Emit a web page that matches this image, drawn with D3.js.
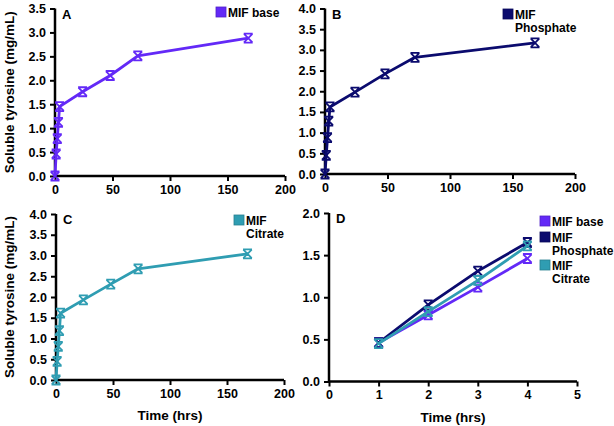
<!DOCTYPE html>
<html><head><meta charset="utf-8">
<script src="https://cdn.jsdelivr.net/npm/d3@7"></script>
<style>body{margin:0;background:#fff}svg{display:block}text{font-family:"Liberation Sans",Arial,sans-serif;font-weight:bold}</style>
</head><body><svg id="c" width="614" height="426"></svg>
<script>
const timesLong = [0, 1, 2, 3, 4, 24, 48, 72, 168];
const baseLong = [0, 0.46, 0.78, 1.12, 1.45, 1.76, 2.1, 2.51, 2.88];
const phosLong = [0, 0.45, 0.88, 1.28, 1.62, 1.98, 2.42, 2.82, 3.17];
const citrLong = [0, 0.45, 0.81, 1.19, 1.61, 1.93, 2.31, 2.68, 3.04];
const timesShort = [1, 2, 3, 4];
const baseShort = [0.46, 0.79, 1.12, 1.46];
const phosShort = [0.46, 0.91, 1.31, 1.65];
const citrShort = [0.45, 0.83, 1.2, 1.61];
const xTicksLong = [0, 50, 100, 150, 200];
const xTicksShort = [0, 1, 2, 3, 4, 5];
const yTicksA = [0, 0.5, 1.0, 1.5, 2.0, 2.5, 3.0, 3.5];
const yTicks4 = [0, 0.5, 1.0, 1.5, 2.0, 2.5, 3.0, 3.5, 4.0];
const yTicksD = [0, 0.5, 1.0, 1.5, 2.0];
const colors = {base: "#6329f7", phos: "#0b0b6e", citr: "#2f9db2"};

const svg = d3.select("#c");

function panel(opt) {
  const g = svg.append("g");
  const x = d3.scaleLinear().domain(opt.xDom).range([opt.x0, opt.x1]);
  const y = d3.scaleLinear().domain(opt.yDom).range([opt.yBot, opt.yTop]);
  const xa = g.append("g").attr("transform", `translate(0,${opt.yBot})`)
    .call(d3.axisBottom(x).tickValues(opt.xTicks).tickFormat(d3.format("d")).tickSize(5).tickPadding(4));
  const ya = g.append("g").attr("transform", `translate(${opt.x0},0)`)
    .call(d3.axisLeft(y).tickValues(opt.yTicks).tickFormat(d3.format(".1f")).tickSize(5).tickPadding(4));
  [xa, ya].forEach(a => {
    a.select(".domain").attr("stroke", "#000").attr("stroke-width", 2.5);
    a.selectAll(".tick line").attr("stroke", "#000").attr("stroke-width", 2);
    a.selectAll(".tick text").attr("font-size", 12.5).attr("fill", "#000")
      .attr("font-family", '"Liberation Sans",Arial,sans-serif').attr("font-weight", "bold");
  });
  ya.select(".domain").attr("d", `M0,${opt.yBot}V${opt.yTop}`);
  xa.select(".domain").attr("d", `M${opt.x0},0H${opt.x1}`);
  opt.series.forEach(s => {
    const pts = s.t.map((t, i) => [x(t), y(s.v[i])]);
    g.append("path").attr("d", d3.line()(pts)).attr("fill", "none")
      .attr("stroke", s.color).attr("stroke-width", 2.8).attr("stroke-linejoin", "round");
    pts.forEach(p => {
      const r = 4.2;
      g.append("path").attr("d", `M${p[0]-r},${p[1]-r}L${p[0]+r},${p[1]+r}M${p[0]-r},${p[1]+r}L${p[0]+r},${p[1]-r}M${p[0]-4.5},${p[1]-4.5}H${p[0]+4.5}M${p[0]-4.5},${p[1]+4.5}H${p[0]+4.5}`)
        .attr("stroke", s.color).attr("stroke-width", 1.8).attr("fill", "none");
    });
  });
  g.append("text").attr("x", opt.x0 + 7).attr("y", opt.yTop + 10).attr("font-size", 13).text(opt.letter);
  opt.legend.forEach(l => {
    g.append("rect").attr("x", l.x).attr("y", l.y).attr("width", 10).attr("height", 10)
      .attr("fill", l.color).attr("stroke", d3.color(l.color).darker(0.6)).attr("stroke-width", 0.8);
    l.lines.forEach((ln, i) => {
      g.append("text").attr("x", l.x + 12).attr("y", l.y + 10 + i * 13).attr("font-size", 12).text(ln);
    });
  });
  if (opt.yTitle) {
    g.append("text").attr("transform", `translate(14,${(opt.yTop + opt.yBot) / 2}) rotate(-90)`)
      .attr("text-anchor", "middle").attr("font-size", 13.5).text("Soluble tyrosine (mg/mL)");
  }
  if (opt.xTitle) {
    g.append("text").attr("x", (opt.x0 + opt.x1) / 2).attr("y", opt.yBot + 40)
      .attr("text-anchor", "middle").attr("font-size", 13.5).text("Time (hrs)");
  }
}

panel({letter: "A", x0: 55, x1: 285, yTop: 8.5, yBot: 176, xDom: [0, 200], yDom: [0, 3.5],
  xTicks: xTicksLong, yTicks: yTicksA, yTitle: true,
  series: [{t: timesLong, v: baseLong, color: colors.base}],
  legend: [{x: 216, y: 7, color: colors.base, lines: ["MIF base"]}]});
panel({letter: "B", x0: 325, x1: 575, yTop: 8.5, yBot: 174, xDom: [0, 200], yDom: [0, 4],
  xTicks: xTicksLong, yTicks: yTicks4,
  series: [{t: timesLong, v: phosLong, color: colors.phos}],
  legend: [{x: 503, y: 9, color: colors.phos, lines: ["MIF", "Phosphate"]}]});
panel({letter: "C", x0: 56, x1: 284, yTop: 214, yBot: 380, xDom: [0, 200], yDom: [0, 4],
  xTicks: xTicksLong, yTicks: yTicks4, yTitle: true, xTitle: true,
  series: [{t: timesLong, v: citrLong, color: colors.citr}],
  legend: [{x: 234, y: 215, color: colors.citr, lines: ["MIF", "Citrate"]}]});
panel({letter: "D", x0: 329, x1: 577, yTop: 213, yBot: 381.5, xDom: [0, 5], yDom: [0, 2],
  xTicks: xTicksShort, yTicks: yTicksD, xTitle: true,
  series: [{t: timesShort, v: baseShort, color: colors.base},
           {t: timesShort, v: phosShort, color: colors.phos},
           {t: timesShort, v: citrShort, color: colors.citr}],
  legend: [{x: 540, y: 216, color: colors.base, lines: ["MIF base"]},
           {x: 540, y: 232, color: colors.phos, lines: ["MIF", "Phosphate"]},
           {x: 540, y: 260, color: colors.citr, lines: ["MIF", "Citrate"]}]});
</script></body></html>
